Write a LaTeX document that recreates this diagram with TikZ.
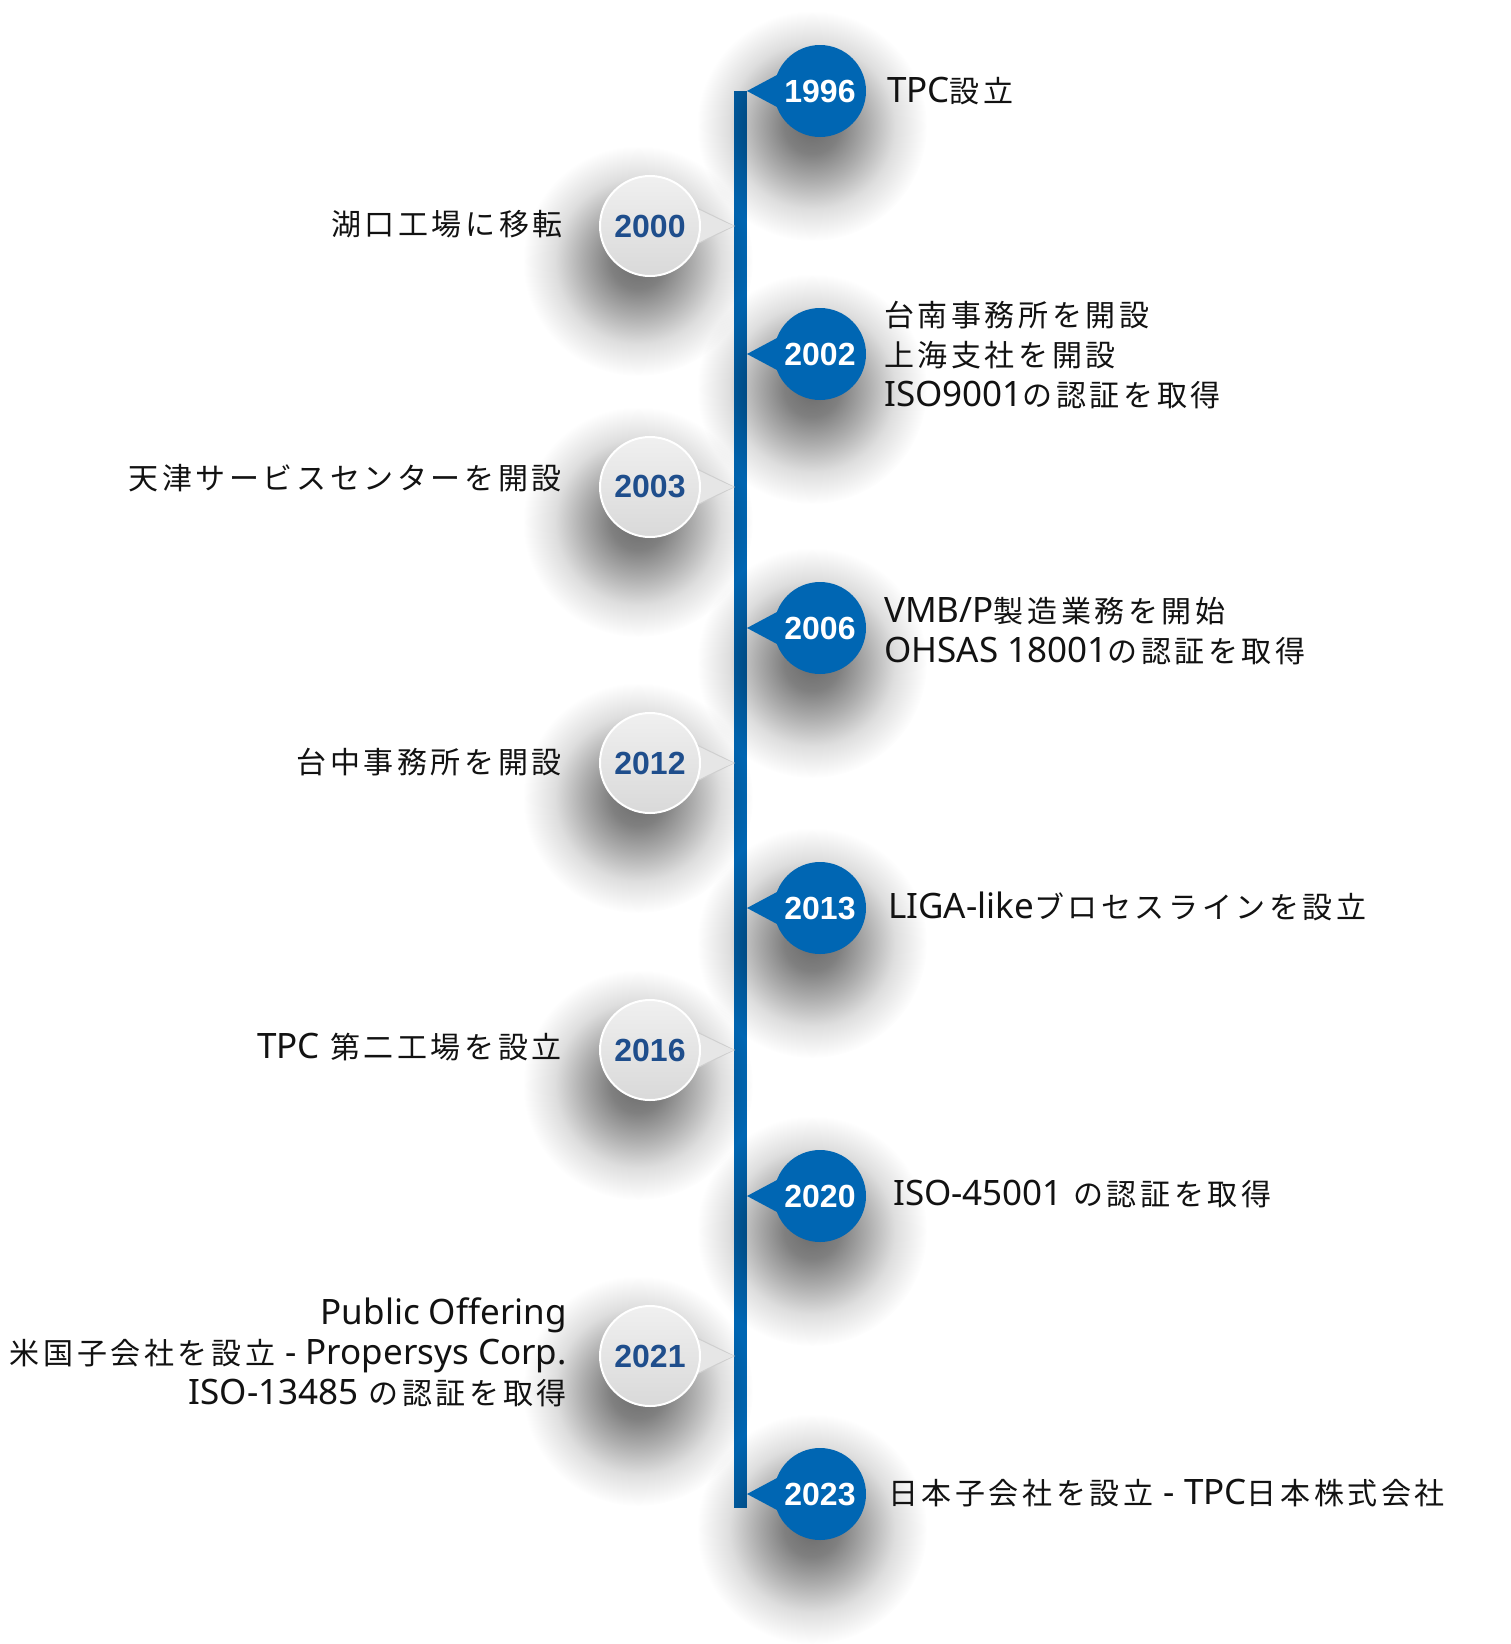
\documentclass[tikz,border=0pt]{standalone}
\usepackage{fontspec}
\usetikzlibrary{fadings,calc}
\newfontfamily\jpfont{Noto Sans CJK JP}[LetterSpace=12]
\newfontfamily\latfont{Noto Sans}
\newfontfamily\yrfont{Liberation Sans}
\definecolor{tblue}{HTML}{0066B3}
\definecolor{tyear}{HTML}{1F4E8C}
\definecolor{gtop}{HTML}{F0F0F0}
\definecolor{gbot}{HTML}{D9D9D9}
\definecolor{ptrfill}{HTML}{E6E6E6}
\definecolor{ptrline}{HTML}{CFCFCF}
\newcommand\lt[1]{{\fontsize{35}{40}\latfont #1}}
\pgfdeclareradialshading{shfadeshade}{\pgfpointorigin}{color(0bp)=(black!42); color(6bp)=(black!50); color(12bp)=(black!68); color(18bp)=(black!87); color(25bp)=(black!100); color(50bp)=(black!100)}
\pgfdeclarefading{shfade}{\pgfuseshading{shfadeshade}}
\tikzset{
  bluebub/.style={circle, fill=tblue, minimum size=92pt, inner sep=0pt,
    font=\yrfont\bfseries\fontsize{32}{36}\selectfont, text=white},
  greybub/.style={circle, top color=gtop, bottom color=gbot, draw=white, line width=2pt,
    minimum size=100pt, inner sep=0pt,
    font=\yrfont\bfseries\fontsize{32}{36}\selectfont, text=tyear},
  blueptr/.style={fill=tblue},
  greyptr/.style={fill=ptrfill, draw=ptrline, line width=1pt, line join=miter},
  shadowfill/.style={fill=black, path fading=shfade},
  rtext/.style={anchor=west, align=left, inner sep=0pt, font=\jpfont\fontsize{30}{40}\selectfont, text=black!93},
  ltext/.style={anchor=east, align=right, inner sep=0pt, font=\jpfont\fontsize{30}{40}\selectfont, text=black!93},
}
\begin{document}
\begin{tikzpicture}[x=1pt,y=-1pt]
\useasboundingbox (0,0) rectangle (1511,1644);
\fill[white] (0,0) rectangle (1511,1644);
% timeline
\coordinate (ltop) at (740.5,91);
\coordinate (lbot) at (740.5,1508);
\draw[tblue, line width=13pt] (ltop) -- (lbot);
% shadows
\foreach \x/\y in {812/126, 812/389, 812/663, 812/943, 812/1231, 812/1529}
  \fill[shadowfill] (\x,\y) circle (115);
\foreach \x/\y in {638/261, 638/522, 638/798, 638/1085, 638/1391}
  \fill[shadowfill] (\x,\y) circle (115);
% blue bubbles
\foreach \n/\y in {1996/91, 2002/354, 2006/628, 2013/908, 2020/1196, 2023/1494}{
  \coordinate (c\n) at (820,\y);
  \coordinate (t\n) at (747,\y);
  \fill[blueptr] ($(c\n)+(-43,-16)$) -- (t\n) -- ($(c\n)+(-43,16)$) -- (c\n) -- cycle;
  \node[bluebub] (b\n) at (c\n) {\n};
}
% grey bubbles
\foreach \n/\y in {2000/226, 2003/487, 2012/763, 2016/1050, 2021/1356}{
  \coordinate (t\n) at (734,\y);
  \coordinate (c\n) at (650,\y);
  \draw[greyptr] ($(c\n)+(47,-18)$) -- (t\n) -- ($(c\n)+(47,18)$);
  \fill[ptrfill] ($(c\n)+(40,-18)$) -- (t\n) -- ($(c\n)+(40,18)$) -- cycle;
  \node[greybub] (b\n) at (c\n) {\n};
}
% texts right
\node[rtext] (x1996) at (887,91) {\lt{TPC}設立};
\node[rtext] (x2002) at (884,355) {台南事務所を開設\\上海支社を開設\\\lt{ISO9001}の認証を取得};
\node[rtext] (x2006) at (884,631) {\lt{VMB/P}製造業務を開始\\\lt{OHSAS 18001}の認証を取得};
\node[rtext] (x2013) at (888,906) {\lt{LIGA-like}ブロセスラインを設立};
\node[rtext] (x2020) at (893,1194) {\lt{ISO-45001} の認証を取得};
\node[rtext] (x2023) at (888,1493) {日本子会社を設立 \lt{- TPC}日本株式会社};
% texts left
\node[ltext] (x2000) at (563,224) {湖口工場に移転};
\node[ltext] (x2003) at (562,478) {天津サービスセンターを開設};
\node[ltext] (x2012) at (562,762) {台中事務所を開設};
\node[ltext] (x2016) at (562,1047) {\lt{TPC} 第二工場を設立};
\node[ltext] (x2021) at (567,1352) {\lt{Public Offering}\\米国子会社を設立 \lt{- Propersys Corp.}\\\lt{ISO-13485} の認証を取得};
\end{tikzpicture}
\end{document}
